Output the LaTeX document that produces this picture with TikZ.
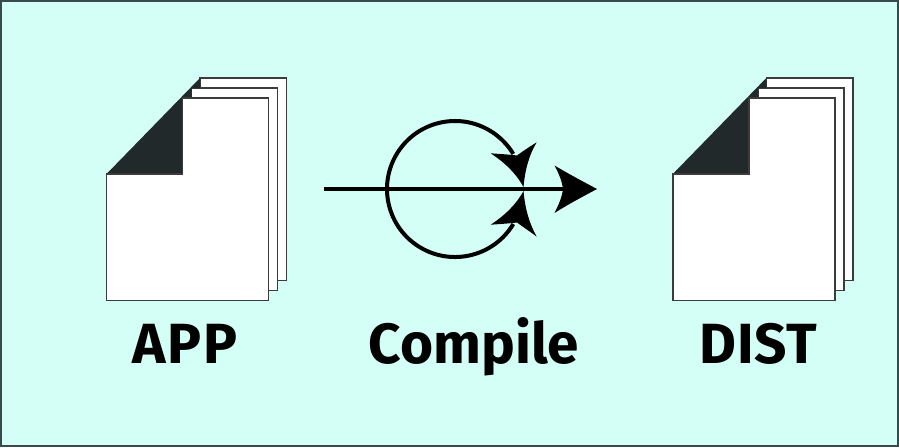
\documentclass[tikz,border=0pt]{standalone}
\usepackage{fontspec}
\setmainfont{Fira Sans}[BoldFont={Fira Sans Bold}]
\definecolor{bgc}{HTML}{D4FFF7}
\definecolor{framec}{HTML}{3A4A4C}
\definecolor{foldc}{HTML}{22292B}
\definecolor{edgec}{HTML}{3C3C3C}
\tikzset{
  pagesheet/.style={draw=edgec,line width=1.1pt,fill=white,line join=miter},
  foldtri/.style={fill=foldc,draw=none},
  flowline/.style={draw=black,line width=3pt},
  headfill/.style={fill=black,draw=none},
  biglabel/.style={font=\fontsize{42.5pt}{42.5pt}\selectfont\bfseries,text=black,inner sep=0pt,anchor=base},
  docstack/.pic={
    \path[pagesheet] (200,78) -- (286.5,78) -- (286.5,280.5) -- (200,280.5) -- cycle;
    \path[pagesheet] (191.5,88) -- (277.5,88) -- (277.5,290.5) -- (191.5,290.5) -- cycle;
    \path[foldtri] (106.5,174) -- (200,78) -- (200,88) -- (191.5,88) -- (191.5,98) -- (182.5,98) -- (182.5,174) -- cycle;
    \path[pagesheet] (106.5,174) -- (182.5,174) -- (182.5,98) -- (268.5,98) -- (268.5,300.5) -- (106.5,300.5) -- cycle;
  }
}
\begin{document}
\begin{tikzpicture}[x=0.75pt,y=-0.75pt]
\useasboundingbox (0,0) rectangle (899,447);
\path[fill=bgc,draw=framec,line width=1.8pt] (1,1) rectangle (898,446);
\pic at (0,0) {docstack};
\pic at (566.3,0) {docstack};
% compile symbol
\coordinate (linestart) at (323.5,189);
\coordinate (lineend) at (566,189);
\coordinate (loopcentre) at (455,189);
\draw[flowline] (linestart) -- (lineend);
\draw[flowline] (loopcentre) ++(31:68) arc[start angle=31,end angle=329,radius=68];
\path[headfill] (523.5,187) .. controls (515,172) and (505,163) .. (490.7,153.3)
  .. controls (500,154) and (509,154.5) .. (517,155.5)
  .. controls (523,151) and (530,146.5) .. (536.7,142.3)
  .. controls (529,155) and (525,170) .. (523.5,187) -- cycle;
\path[headfill] (523.5,191) .. controls (515,206) and (505,215) .. (490.7,224.7)
  .. controls (500,224) and (509,223.5) .. (517,222.5)
  .. controls (523,227) and (530,231.5) .. (536.7,236.7)
  .. controls (529,223) and (525,208) .. (523.5,191) -- cycle;
\path[headfill] (597,189) .. controls (582,181) and (567,173) .. (554.5,165.5)
  .. controls (559,174) and (562,181) .. (563,189)
  .. controls (562,197) and (559,204) .. (554.5,213)
  .. controls (567,205) and (582,197) .. (597,189) -- cycle;
\node[biglabel] (applabel) at (185,363) {\addfontfeature{LetterSpace=3}APP};
\node[biglabel] (compilelabel) at (474,363) {Compile};
\node[biglabel] (distlabel) at (758.5,363) {\addfontfeature{LetterSpace=1.5}DIST};
\end{tikzpicture}
\end{document}
